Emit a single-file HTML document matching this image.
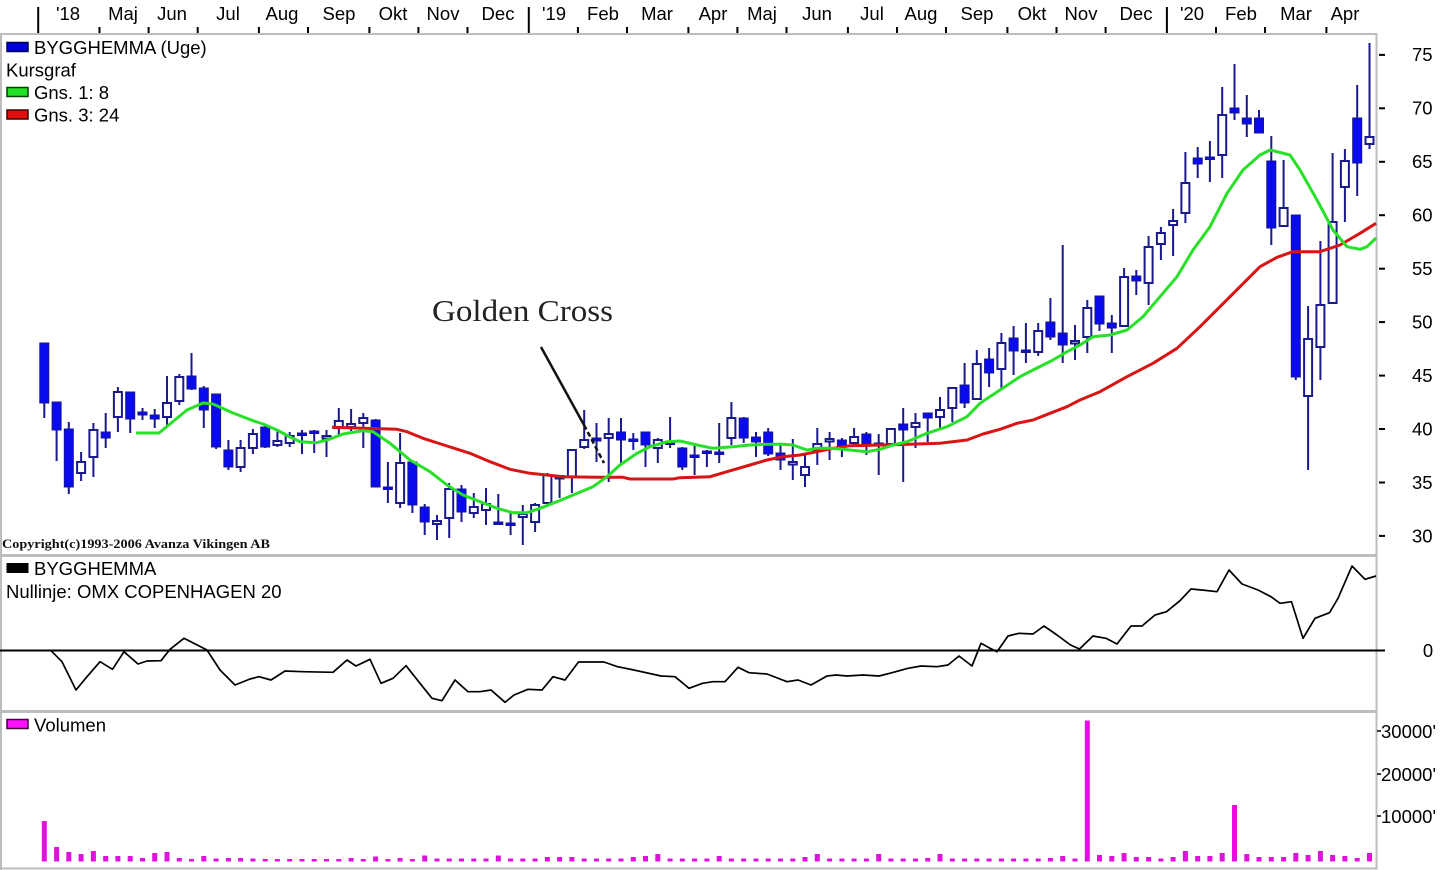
<!DOCTYPE html>
<html>
<head>
<meta charset="utf-8">
<style>
html,body{margin:0;padding:0;background:#fff;}
body{width:1440px;height:870px;overflow:hidden;}
svg{display:block;}
text{font-family:"Liberation Sans",Arial,sans-serif;font-size:18.5px;fill:#000;}
.wk{fill:none;stroke:#1a1a8c;stroke-width:2;}
.fb{fill:#0a0aee;stroke:#16168c;stroke-width:1;}
.hb{fill:#fff;stroke:#1a1a8c;stroke-width:2;}
</style>
</head>
<body>
<svg width="1440" height="870" viewBox="0 0 1440 870" xmlns="http://www.w3.org/2000/svg">
<rect x="0" y="0" width="1440" height="870" fill="#fff"/>

<!-- top time axis ticks -->
<g stroke="#000" stroke-width="2">
<line x1="38.2" y1="7" x2="38.2" y2="34"/>
<line x1="99.5" y1="27" x2="99.5" y2="34"/>
<line x1="148.6" y1="27" x2="148.6" y2="34"/>
<line x1="197.7" y1="27" x2="197.7" y2="34"/>
<line x1="258.9" y1="27" x2="258.9" y2="34"/>
<line x1="308" y1="27" x2="308" y2="34"/>
<line x1="369.4" y1="27" x2="369.4" y2="34"/>
<line x1="418.4" y1="27" x2="418.4" y2="34"/>
<line x1="467.5" y1="27" x2="467.5" y2="34"/>
<line x1="528.8" y1="7" x2="528.8" y2="34"/>
<line x1="577.9" y1="27" x2="577.9" y2="34"/>
<line x1="627" y1="27" x2="627" y2="34"/>
<line x1="688.4" y1="27" x2="688.4" y2="34"/>
<line x1="737.4" y1="27" x2="737.4" y2="34"/>
<line x1="786.5" y1="27" x2="786.5" y2="34"/>
<line x1="847.9" y1="27" x2="847.9" y2="34"/>
<line x1="897" y1="27" x2="897" y2="34"/>
<line x1="946" y1="27" x2="946" y2="34"/>
<line x1="1007.4" y1="27" x2="1007.4" y2="34"/>
<line x1="1056.5" y1="27" x2="1056.5" y2="34"/>
<line x1="1105.6" y1="27" x2="1105.6" y2="34"/>
<line x1="1166.9" y1="7" x2="1166.9" y2="34"/>
<line x1="1216" y1="27" x2="1216" y2="34"/>
<line x1="1265" y1="27" x2="1265" y2="34"/>
<line x1="1326.4" y1="27" x2="1326.4" y2="34"/>
</g>
<g text-anchor="middle">
<text x="68" y="20">'18</text>
<text x="123" y="20">Maj</text>
<text x="172" y="20">Jun</text>
<text x="228" y="20">Jul</text>
<text x="282" y="20">Aug</text>
<text x="339" y="20">Sep</text>
<text x="393" y="20">Okt</text>
<text x="443" y="20">Nov</text>
<text x="498" y="20">Dec</text>
<text x="554" y="20">'19</text>
<text x="603" y="20">Feb</text>
<text x="657" y="20">Mar</text>
<text x="713" y="20">Apr</text>
<text x="762" y="20">Maj</text>
<text x="817" y="20">Jun</text>
<text x="872" y="20">Jul</text>
<text x="921" y="20">Aug</text>
<text x="977" y="20">Sep</text>
<text x="1032" y="20">Okt</text>
<text x="1081" y="20">Nov</text>
<text x="1136" y="20">Dec</text>
<text x="1192" y="20">'20</text>
<text x="1241" y="20">Feb</text>
<text x="1296" y="20">Mar</text>
<text x="1345" y="20">Apr</text>
</g>

<!-- frame -->
<g stroke="#bdbdbd" fill="none">
<line x1="0" y1="34" x2="1377.5" y2="34" stroke-width="2"/>
<line x1="1" y1="33" x2="1" y2="870" stroke-width="2"/>
<line x1="1376.5" y1="33" x2="1376.5" y2="869" stroke-width="2"/>
<line x1="0" y1="555.5" x2="1377.5" y2="555.5" stroke-width="3"/>
<line x1="0" y1="711.5" x2="1377.5" y2="711.5" stroke-width="3"/>
<line x1="0" y1="868.5" x2="1377.5" y2="868.5" stroke-width="2"/>
</g>

<!-- price axis -->
<g stroke="#000" stroke-width="2">
<line x1="1379" y1="54.9" x2="1385" y2="54.9"/>
<line x1="1379" y1="108.3" x2="1385" y2="108.3"/>
<line x1="1379" y1="161.8" x2="1385" y2="161.8"/>
<line x1="1379" y1="215.2" x2="1385" y2="215.2"/>
<line x1="1379" y1="268.7" x2="1385" y2="268.7"/>
<line x1="1379" y1="322.1" x2="1385" y2="322.1"/>
<line x1="1379" y1="375.6" x2="1385" y2="375.6"/>
<line x1="1379" y1="429" x2="1385" y2="429"/>
<line x1="1379" y1="482.5" x2="1385" y2="482.5"/>
<line x1="1379" y1="535.9" x2="1385" y2="535.9"/>
</g>
<g>
<text x="1412" y="61">75</text>
<text x="1412" y="114.5">70</text>
<text x="1412" y="168">65</text>
<text x="1412" y="221.5">60</text>
<text x="1412" y="275">55</text>
<text x="1412" y="328.5">50</text>
<text x="1412" y="382">45</text>
<text x="1412" y="435.5">40</text>
<text x="1412" y="489">35</text>
<text x="1412" y="542.5">30</text>
</g>

<!-- legend main -->
<rect x="7" y="42.5" width="21" height="9" fill="#0000d8" stroke="#000050" stroke-width="1.5"/>
<text x="34" y="54">BYGGHEMMA (Uge)</text>
<text x="6" y="76.5">Kursgraf</text>
<rect x="7" y="87.5" width="21" height="9" fill="#22e022" stroke="#004000" stroke-width="1.5"/>
<text x="34" y="99">Gns. 1: 8</text>
<rect x="7" y="110" width="21" height="9" fill="#e01010" stroke="#400000" stroke-width="1.5"/>
<text x="34" y="121.5">Gns. 3: 24</text>

<!-- candles: wicks -->
<path class="wk" d="M44.3 343V418M56.6 402V461M68.8 422V494M81.1 452V481M93.4 423V477M105.7 413V448M117.9 387V432M130.2 392V433M142.5 408V420M154.7 409V428M167 376V425M179.3 374V405M191.5 353V390M203.8 386V428M216.1 394V449M228.4 440V470M240.6 440V472M252.9 429V454M265.2 425V448M277.4 430V447M289.7 432V447M302 430V454M314.2 430V453M326.5 430V457M338.8 408V437M351.1 409V431M363.3 413V448M375.6 419V487M387.9 462V503M400.1 433V508M412.4 462V513M424.7 504V535M437 515V540M449.2 483V538M461.5 485V522M473.8 493V518M486 488V525M498.3 494V524M510.6 513V535M522.8 505V545M535.1 503V532M547.4 473V505M559.6 475V498M571.9 449V493M584.2 410V449M596.5 423V462M608.7 418V482M621 418V465M633.3 433V450M645.5 432V467M657.8 438V463M670.1 417V448M682.3 447V470M694.6 443V475M706.9 450V467M719.2 423V463M731.4 402V445M743.7 417V443M756 432V457M768.2 428V456M780.5 443V470M792.8 439V480M805 455V487M817.3 428V465M829.6 432V460M841.9 438V457M854.1 428V447M866.4 432V455M878.7 434V475M890.9 428V445M903.2 408V482M915.5 413V448M927.7 413V442M940 397V428M952.3 388V422M964.6 363V408M976.8 350V400M989.1 348V387M1001.4 333V389M1013.6 326V375M1025.9 323V363M1038.2 323V356M1050.4 298V340M1062.7 245V363M1075 325V360M1087.3 300V353M1099.5 296V331M1111.8 315V353M1124.1 268V327M1136.3 270V295M1148.6 236V305M1160.9 227V260M1173.1 209V256M1185.4 152V223M1197.7 147V178M1209.9 141V182M1222.2 87V178M1234.5 64V120M1246.8 95V137M1259 110V133M1271.3 136V245M1283.6 160V227M1295.8 215V380M1308.1 306V470M1320.4 241V380M1332.6 153V303M1344.9 149V222M1357.2 85V196M1369.5 43V149"/>

<!-- filled bodies -->
<path class="fb" d="M39.8 343h9V403h-9ZM52.1 402h9V430h-9ZM64.3 429h9V487h-9ZM101.2 432h9V438h-9ZM125.7 392h9V419h-9ZM138 412h9V415h-9ZM150.2 415h9V419h-9ZM187 376h9V389h-9ZM199.3 388h9V410h-9ZM211.6 394h9V447h-9ZM223.9 450h9V467h-9ZM260.7 427h9V447h-9ZM297.5 433h9V435.5h-9ZM309.7 431h9V433.5h-9ZM371.1 420h9V487h-9ZM383.4 487h9V489.5h-9ZM407.9 462h9V505h-9ZM420.2 507h9V522h-9ZM457 489h9V512h-9ZM493.8 522h9V524.5h-9ZM506.1 523h9V525.5h-9ZM592 438h9V441h-9ZM616.5 432h9V440h-9ZM628.8 439h9V441.5h-9ZM641 432h9V445h-9ZM665.6 442h9V444.5h-9ZM677.8 448h9V467h-9ZM690.1 455h9V457.5h-9ZM702.4 451h9V453.5h-9ZM714.7 452h9V454.5h-9ZM739.2 418h9V438h-9ZM751.5 437h9V442h-9ZM763.7 432h9V454h-9ZM776 453h9V460h-9ZM837.4 440h9V446h-9ZM861.9 434h9V445h-9ZM874.2 443h9V445.5h-9ZM898.7 424h9V430h-9ZM923.2 413h9V418h-9ZM960.1 385h9V403h-9ZM984.6 359h9V373h-9ZM1009.1 338h9V351h-9ZM1021.4 350h9V352.5h-9ZM1045.9 322h9V337h-9ZM1058.2 333h9V345h-9ZM1095 296h9V324h-9ZM1107.3 323h9V328h-9ZM1131.8 276h9V281h-9ZM1193.2 158h9V164h-9ZM1205.4 157h9V159.5h-9ZM1230 108h9V113h-9ZM1242.3 118h9V124h-9ZM1254.5 118h9V133h-9ZM1266.8 161h9V228h-9ZM1291.3 215h9V377h-9ZM1352.7 118h9V163h-9Z"/>

<!-- hollow bodies -->
<path class="hb" d="M77.1 462h8V473h-8ZM89.4 430h8V457h-8ZM113.9 392h8V417h-8ZM163 403h8V417h-8ZM175.3 377h8V401h-8ZM236.6 448h8V467h-8ZM248.9 434h8V448h-8ZM273.4 441h8V445h-8ZM285.7 436h8V443h-8ZM322.5 436h8V438.5h-8ZM334.8 421h8V428h-8ZM347.1 424h8V427h-8ZM359.3 418h8V423h-8ZM396.1 463h8V503h-8ZM433 521h8V524h-8ZM445.2 489h8V518h-8ZM469.8 507h8V513h-8ZM482 504h8V510h-8ZM518.8 514h8V517h-8ZM531.1 505h8V522h-8ZM543.4 475h8V503h-8ZM555.6 476h8V478.5h-8ZM567.9 450h8V477h-8ZM580.2 440h8V447h-8ZM604.7 434h8V438h-8ZM653.8 440h8V448h-8ZM727.4 418h8V438h-8ZM788.8 462h8V464.5h-8ZM801 467h8V475h-8ZM813.3 444h8V450h-8ZM825.6 439h8V441.5h-8ZM850.1 437h8V443h-8ZM886.9 429h8V444h-8ZM911.5 423h8V427h-8ZM936 410h8V417h-8ZM948.3 388h8V408h-8ZM972.8 364h8V399h-8ZM997.4 343h8V369h-8ZM1034.2 331h8V352h-8ZM1071 341h8V343.5h-8ZM1083.3 308h8V337h-8ZM1120.1 277h8V326h-8ZM1144.6 247h8V283h-8ZM1156.9 233h8V244h-8ZM1169.1 221h8V225h-8ZM1181.4 183h8V213h-8ZM1218.2 115h8V155h-8ZM1279.6 208h8V226h-8ZM1304.1 339h8V396h-8ZM1316.4 305h8V347h-8ZM1328.6 222h8V303h-8ZM1340.9 161h8V187h-8ZM1365.5 137h8V144h-8Z"/>

<!-- moving averages -->
<path fill="none" stroke="#d81414" stroke-width="3" stroke-linejoin="round" d="M332 427.3L397 429.3L407 431.7L423 438.3L447 446L470 453.3L490 461.7L510 469.3L530 473.3L563 476.7L597 477.3L623 477.3L630 479L673 479L680 477.7L710 476.7L727 471.7L750 465L767 460L783 456.7L800 455L817 451.7L833 448.3L850 445.7L883 445L917 444L940 443.3L967 440L983 434L1000 429.3L1017 423.3L1033 420L1050 413.3L1067 406.7L1080 400L1100 391.7L1127 376.7L1153 363.3L1177 348.3L1200 326.7L1220 306.7L1240 286.7L1260 266.7L1277 257.3L1293 251.7L1320 251.7L1340 245L1360 233.3L1376 223.3"/>
<path fill="none" stroke="#28e028" stroke-width="3" stroke-linejoin="round" d="M136 433L159 433L187 410L203 403L213 404L233 413L253 420.7L263 424L277 430L290 437L300 441.7L317 442.7L330 439L343 434L363 430.7L373 431.7L390 443.3L410 460L430 471.7L447 485L463 495L480 501.7L497 508.3L513 512.7L527 512.7L540 508.3L557 501.7L573 495L593 486.7L607 476.7L620 465L637 453.3L650 446.7L667 441.7L680 441L697 445L713 448.3L733 446.7L750 445L767 444.3L783 444.3L793 445L807 450L817 448.3L833 448.3L850 450L867 451.7L880 449.3L893 445L907 441.7L927 433.3L947 426.7L967 416.7L980 403.3L1000 390L1020 376.7L1033 370L1053 360L1067 351.7L1080 345L1093 336.7L1110 335L1127 330L1143 316.7L1160 296.7L1177 276.7L1193 250L1210 226.7L1227 193.3L1243 170L1260 155L1270 150L1290 155L1300 170L1317 200L1333 230L1347 246.7L1360 249.3L1367 246.7L1376 238"/>

<!-- annotation -->
<text x="432" y="321" textLength="181" lengthAdjust="spacingAndGlyphs" style="font-family:'Liberation Serif','Times New Roman',serif;font-size:31px;fill:#222;">Golden Cross</text>
<line x1="541" y1="347" x2="584" y2="425" stroke="#111" stroke-width="2.5"/>
<line x1="584" y1="425" x2="604" y2="463" stroke="#111" stroke-width="2.5" stroke-dasharray="5,3"/>

<text x="2" y="548" textLength="268" lengthAdjust="spacingAndGlyphs" style="font-family:'Liberation Serif','Times New Roman',serif;font-size:12.5px;font-weight:bold;fill:#111;">Copyright(c)1993-2006 Avanza Vikingen AB</text>

<!-- middle panel -->
<rect x="7" y="563.5" width="21" height="9" fill="#000" stroke="#000" stroke-width="1"/>
<text x="34" y="575">BYGGHEMMA</text>
<text x="6" y="598">Nullinje: OMX COPENHAGEN 20</text>
<line x1="0" y1="650.5" x2="1385" y2="650.5" stroke="#000" stroke-width="2"/>
<text x="1428" y="657" text-anchor="middle">0</text>
<path fill="none" stroke="#000" stroke-width="1.7" stroke-linejoin="round" d="M51 650.7L62 661.7L76 690L87 676.7L100 661.7L112.5 669.3L124 651.7L138 664L147 661L161 660.7L170 649.3L184 638.3L207 650L220 670L235 685L250 679L259 676.7L271 680L285 671L303 671.7L333 672.3L347 660L356 666L370 659.3L381 683.3L393 678.3L406 665.7L420 683.3L432 698.3L442 700.7L455 680L468 691.7L480 691.7L491 690L505 702.3L514 695L528 689.3L542 690L553 676.7L565 680L578.5 662L604 662L617.5 666.7L634 670L661 676L675 676.7L689 688.3L702.5 683.3L713 681.7L725 681.7L738 667.3L749 672.7L767 674L787 681.7L798 680L811 685L827 676L836 675L847 676L863 675L879 676L892 672.7L908 668.3L921 666L937 666.7L948 665L959 656L972 666L981 643.3L990 648.3L997 651.7L1008 636L1019 633.3L1033 634L1044 626L1057 635L1070.5 645L1079.5 649L1093 636L1106 638.3L1117 644L1131 626L1142 626L1155 615L1166.5 611.7L1180 600.7L1191 589L1202 590L1217 591.7L1229 570L1242 584L1258 590L1271 596.7L1280 603.3L1291.5 601.7L1303 638.3L1315 618.3L1329.5 612.7L1338 598.3L1352 566L1365 579.3L1376 576"/>

<!-- volume panel -->
<rect x="7" y="719.5" width="21" height="9" fill="#ff10ff" stroke="#400040" stroke-width="1.5"/>
<text x="34" y="731.5">Volumen</text>
<g stroke="#000" stroke-width="1.5">
<line x1="1377" y1="731" x2="1381" y2="731"/>
<line x1="1377" y1="774" x2="1381" y2="774"/>
<line x1="1377" y1="816" x2="1381" y2="816"/>
</g>
<g text-anchor="end" style="font-size:19.5px;">
<text x="1436" y="738">30000'</text>
<text x="1436" y="781">20000'</text>
<text x="1436" y="823">10000'</text>
</g>
<path fill="#e010e0" d="M41.8 821h5V861.5h-5ZM54.1 847h5V861.5h-5ZM66.3 852h5V861.5h-5ZM78.6 854h5V861.5h-5ZM90.9 851h5V861.5h-5ZM103.2 856h5V861.5h-5ZM115.4 856h5V861.5h-5ZM127.7 856h5V861.5h-5ZM140 858h5V861.5h-5ZM152.2 853h5V861.5h-5ZM164.5 852h5V861.5h-5ZM176.8 858h5V861.5h-5ZM189 859h5V861.5h-5ZM201.3 856h5V861.5h-5ZM213.6 858.5h5V861.5h-5ZM225.9 858h5V861.5h-5ZM238.1 858h5V861.5h-5ZM250.4 858.5h5V861.5h-5ZM262.7 859h5V861.5h-5ZM274.9 859h5V861.5h-5ZM287.2 859h5V861.5h-5ZM299.5 859h5V861.5h-5ZM311.7 859h5V861.5h-5ZM324 859h5V861.5h-5ZM336.3 859h5V861.5h-5ZM348.6 858h5V861.5h-5ZM360.8 859h5V861.5h-5ZM373.1 856.5h5V861.5h-5ZM385.4 859h5V861.5h-5ZM397.6 858h5V861.5h-5ZM409.9 859h5V861.5h-5ZM422.2 855.5h5V861.5h-5ZM434.5 858.5h5V861.5h-5ZM446.7 858.5h5V861.5h-5ZM459 858.5h5V861.5h-5ZM471.3 858.5h5V861.5h-5ZM483.5 858.5h5V861.5h-5ZM495.8 855.5h5V861.5h-5ZM508.1 858.5h5V861.5h-5ZM520.3 858.5h5V861.5h-5ZM532.6 858.5h5V861.5h-5ZM544.9 857h5V861.5h-5ZM557.1 857h5V861.5h-5ZM569.4 857h5V861.5h-5ZM581.7 858.5h5V861.5h-5ZM594 858.5h5V861.5h-5ZM606.2 858.5h5V861.5h-5ZM618.5 858.5h5V861.5h-5ZM630.8 857h5V861.5h-5ZM643 856h5V861.5h-5ZM655.3 854h5V861.5h-5ZM667.6 858.5h5V861.5h-5ZM679.8 858.5h5V861.5h-5ZM692.1 858.5h5V861.5h-5ZM704.4 858.5h5V861.5h-5ZM716.7 856h5V861.5h-5ZM728.9 858.5h5V861.5h-5ZM741.2 858.5h5V861.5h-5ZM753.5 858.5h5V861.5h-5ZM765.7 858.5h5V861.5h-5ZM778 858.5h5V861.5h-5ZM790.3 858.5h5V861.5h-5ZM802.5 857h5V861.5h-5ZM814.8 854h5V861.5h-5ZM827.1 858.5h5V861.5h-5ZM839.4 858.5h5V861.5h-5ZM851.6 858.5h5V861.5h-5ZM863.9 858.5h5V861.5h-5ZM876.2 854h5V861.5h-5ZM888.4 858.5h5V861.5h-5ZM900.7 858.5h5V861.5h-5ZM913 858.5h5V861.5h-5ZM925.2 858h5V861.5h-5ZM937.5 854h5V861.5h-5ZM949.8 858.5h5V861.5h-5ZM962.1 858.5h5V861.5h-5ZM974.3 858.5h5V861.5h-5ZM986.6 858.5h5V861.5h-5ZM998.9 858.5h5V861.5h-5ZM1011.1 858.5h5V861.5h-5ZM1023.4 858.5h5V861.5h-5ZM1035.7 858.5h5V861.5h-5ZM1047.9 858h5V861.5h-5ZM1060.2 856h5V861.5h-5ZM1072.5 858.5h5V861.5h-5ZM1084.8 720.5h5V861.5h-5ZM1097 855h5V861.5h-5ZM1109.3 856h5V861.5h-5ZM1121.6 853h5V861.5h-5ZM1133.8 857h5V861.5h-5ZM1146.1 857h5V861.5h-5ZM1158.4 858.5h5V861.5h-5ZM1170.6 857h5V861.5h-5ZM1182.9 851h5V861.5h-5ZM1195.2 856h5V861.5h-5ZM1207.4 856h5V861.5h-5ZM1219.7 853h5V861.5h-5ZM1232 805h5V861.5h-5ZM1244.3 854h5V861.5h-5ZM1256.5 857h5V861.5h-5ZM1268.8 857h5V861.5h-5ZM1281.1 857h5V861.5h-5ZM1293.3 853h5V861.5h-5ZM1305.6 855h5V861.5h-5ZM1317.9 851h5V861.5h-5ZM1330.1 855h5V861.5h-5ZM1342.4 856h5V861.5h-5ZM1354.7 858h5V861.5h-5ZM1367 853h5V861.5h-5Z"/>
</svg>
</body>
</html>
